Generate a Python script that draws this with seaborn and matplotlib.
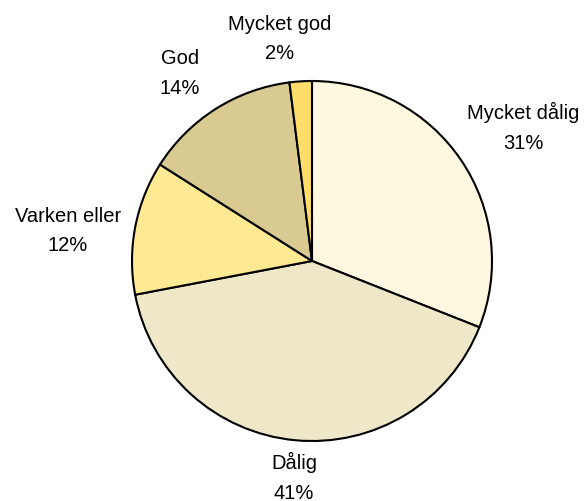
import numpy as np
import matplotlib
matplotlib.use("Agg")
import matplotlib.pyplot as plt
import seaborn as sns

# data
kategorier = ["Mycket dålig", "Dålig", "Varken eller", "God", "Mycket god"]
andelar = [31, 41, 12, 14, 2]
farger = ["#FFF8E0", "#EEE8C8", "#FFE993", "#D9CA91", "#FFDD6A"]
# label positions (in pie radius units)
etikett_pos = [(1.175, 0.747), (-0.10, -1.197), (-1.356, 0.172), (-0.733, 1.047), (-0.178, 1.239)]

sns.set_style("white")
plt.rcParams['font.family'] = ['Liberation Sans', 'DejaVu Sans']

fig = plt.figure(figsize=(5.86, 5.02), dpi=100)
ax = fig.add_axes([132 / 586, 60 / 502, 360 / 586, 360 / 502])

ax.pie(andelar, colors=farger, startangle=90, counterclock=False, radius=1,
       wedgeprops=dict(edgecolor="black", linewidth=1.5))
ax.set_xlim(-1, 1)
ax.set_ylim(-1, 1)
ax.set_aspect("equal")

for namn, v, (x, y) in zip(kategorier, andelar, etikett_pos):
    ax.text(x, y, f"{namn}\n{v}%", ha="center", va="center", fontsize=14.5,
            color="black", linespacing=1.7, clip_on=False)

ax.axis("off")
fig.savefig("out.png", dpi=100)
